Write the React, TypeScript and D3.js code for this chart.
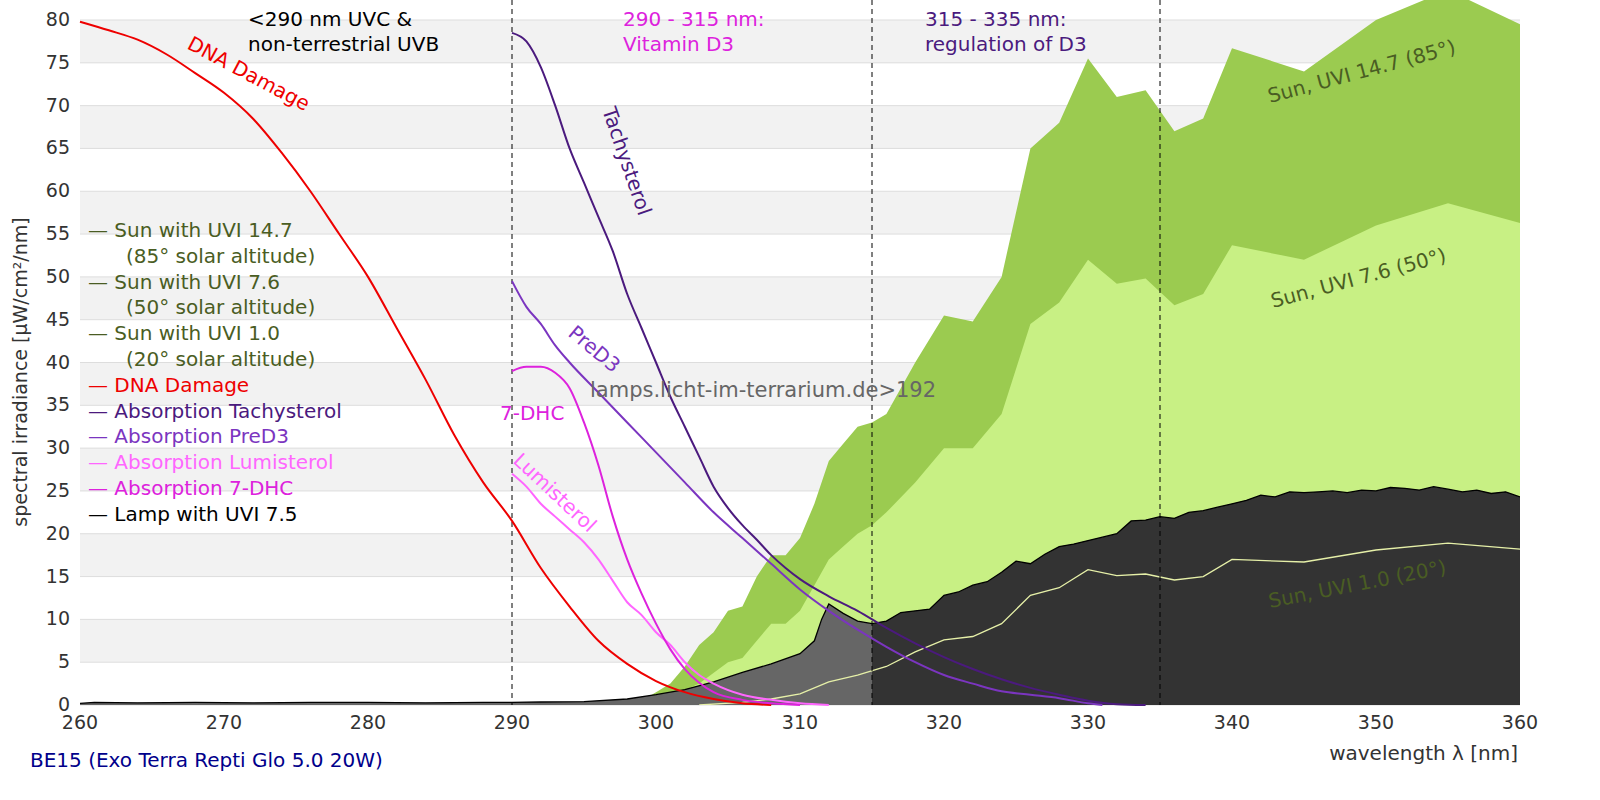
import React from 'react';
import * as d3 from 'd3';

type P = [number, number];

const sun147: P[] = [[297,0],[299,0.5],[300,1.5],[301,2.5],[302,4.5],[303,7],[304,8.5],[305,11],[306,11.5],[307,15],[308,17.5],[309,17.5],[310,19.5],[311,23.5],[312,28.5],[313,30.5],[314,32.5],[315,33],[316,34],[318,40],[320,45.5],[322,44.8],[324,50],[326,65],[328,68],[330,75.5],[332,71],[334,71.8],[336,67],[338,68.5],[340,76.7],[345,74],[350,80],[355,83.5],[360,79.5]];
const sun76: P[] = [[299,0],[301,1],[303,2.5],[305,5],[306,5.5],[307,7.5],[308,9.5],[309,9.5],[310,11],[311,14],[312,17],[313,18.5],[314,20],[315,21],[316,22.5],[318,26],[320,30],[322,30],[324,34],[326,44.5],[328,47],[330,52],[332,49.2],[334,49.8],[336,46.7],[338,48],[340,53.7],[345,52],[350,56],[355,58.6],[360,56.3]];
const sun10: P[] = [[303,0],[306,0.3],[308,0.7],[310,1.3],[312,2.7],[314,3.5],[316,4.5],[318,6.2],[320,7.6],[322,8],[324,9.5],[326,12.8],[328,13.7],[330,15.8],[332,15.1],[334,15.3],[336,14.6],[338,15],[340,17],[345,16.7],[350,18.1],[355,18.9],[360,18.2]];
const lamp: P[] = [[260,0.2],[261,0.3],[264,0.25],[268,0.3],[272,0.25],[276,0.3],[280,0.3],[284,0.25],[288,0.3],[290,0.3],[292,0.35],[295,0.4],[298,0.7],[300,1.2],[302,1.8],[304,2.7],[306,3.8],[308,4.8],[310,6],[311,7.5],[311.5,10],[312,11.8],[313,10.7],[314,9.8],[315,9.5],[316,9.8],[317,10.8],[318,11],[319,11.2],[320,12.8],[321,13.2],[322,14],[323,14.4],[324,15.5],[325,16.8],[326,16.5],[327,17.6],[328,18.5],[329,18.8],[330,19.2],[331,19.6],[332,20],[333,21.5],[334,21.6],[335,22],[336,21.8],[337,22.5],[338,22.7],[339,23.1],[340,23.5],[341,23.9],[342,24.5],[343,24.3],[344,24.9],[345,24.8],[346,24.9],[347,25],[348,24.8],[349,25.1],[350,25],[351,25.4],[352,25.3],[353,25.1],[354,25.5],[355,25.2],[356,24.9],[357,25.1],[358,24.7],[359,24.9],[360,24.3]];
const dna: P[] = [[260,79.8],[262,78.8],[264,77.7],[266,76],[268,73.8],[270,71.5],[272,68.5],[274,64.5],[276,60],[278,55],[280,50],[282,44],[284,38],[286,31.5],[288,26],[290,21.5],[292,16],[294,11.5],[296,7.5],[298,4.8],[300,2.8],[302,1.5],[304,0.7],[306,0.2],[308,0]];
const tachy: P[] = [[290,78.5],[291,77.5],[292,74.5],[293,70],[294,65],[295,61],[296,57],[297,53],[298,48],[299,44],[300,40],[301,36],[302,32.5],[303,29],[304,25.5],[305,23],[306,21],[307,19.3],[308,17.5],[309,16],[310,14.7],[312,12.7],[314,11],[316,9],[318,7.2],[320,5.6],[322,4.2],[324,3],[326,2],[328,1.2],[330,0.5],[332,0.1],[334,0]];
const pred3: P[] = [[290,49.5],[291,46.5],[292,44.5],[293,42],[294,40],[296,36.5],[298,33],[300,29.5],[302,26],[304,22.5],[306,19.5],[308,16.5],[310,13.5],[312,11],[314,8.8],[316,6.8],[318,5],[320,3.5],[322,2.5],[324,1.6],[326,1.2],[328,0.8],[330,0.2],[331,0]];
const dhc7: P[] = [[290,39],[291,39.5],[292,39.5],[293,38.8],[294,37],[295,33],[296,28],[297,22],[298,17],[299,13],[300,9.5],[301,6.5],[302,4.2],[303,2.6],[304,1.5],[306,0.6],[308,0.2],[310,0]];
const lumi: P[] = [[290,27],[291,25.5],[292,23.5],[293,22],[294,20.5],[295,19],[296,17],[297,14.5],[298,12],[299,10.5],[300,8.5],[301,7],[302,5],[303,3.5],[304,2.5],[306,1.2],[308,0.6],[310,0.2],[312,0]];

const xTicks = d3.range(260, 361, 10);
const yTicks = d3.range(0, 81, 5);
const dashedAt = [290, 315, 335];
const legendItems: [string, string, boolean][] = [
  ['— Sun with UVI 14.7', '#4a5d23', false], ['(85° solar altitude)', '#4a5d23', true],
  ['— Sun with UVI 7.6', '#4a5d23', false], ['(50° solar altitude)', '#4a5d23', true],
  ['— Sun with UVI 1.0', '#4a5d23', false], ['(20° solar altitude)', '#4a5d23', true],
  ['— DNA Damage', '#ee0000', false], ['— Absorption Tachysterol', '#4b1a7e', false],
  ['— Absorption PreD3', '#7b35c0', false], ['— Absorption Lumisterol', '#ff66ff', false],
  ['— Absorption 7-DHC', '#dd22dd', false], ['— Lamp with UVI 7.5', '#000', false],
];

const x = d3.scaleLinear().domain([260, 360]).range([80, 1520]);
const y = d3.scaleLinear().domain([0, 80]).range([705, 20]);
const area = d3.area<P>().x(d => x(d[0])).y0(y(0)).y1(d => y(d[1]));
const line = d3.line<P>().x(d => x(d[0])).y(d => y(d[1])).curve(d3.curveMonotoneX);
const sline = d3.line<P>().x(d => x(d[0])).y(d => y(d[1]));

export default function App() {
  const font = 'DejaVu Sans, sans-serif';
  const lampA = lamp.filter(d => d[0] <= 315);
  const lampB = lamp.filter(d => d[0] >= 315);
  return (
    <svg width={1600} height={800} style={{ position: 'absolute', left: 0, top: 0, fontFamily: font }}>
      <defs><clipPath id="c"><rect x={80} y={0} width={1440} height={705} /></clipPath></defs>
      {yTicks.slice(0, -1).map(t => t % 10 === 5 ? (
        <rect key={t} x={80} y={y(t + 5)} width={1440} height={y(t) - y(t + 5)} fill="#f2f2f2" />) : null)}
      {yTicks.map(t => <line key={t} x1={80} x2={1520} y1={y(t)} y2={y(t)} stroke="#ddd" />)}
      <g clipPath="url(#c)">
        <path d={area(sun147)!} fill="#9bcb50" />
        <path d={area(sun76)!} fill="#c8f084" />
        <path d={area(lampA)!} fill="#666" />
        <path d={area(lampB)!} fill="#333" />
        <path d={sline(lamp)!} fill="none" stroke="#000" strokeWidth={1.3} />
        <path d={sline(sun10)!} fill="none" stroke="#e6f0a8" strokeWidth={1.3} />
      </g>
      {dashedAt.map(v => <line key={v} x1={x(v)} x2={x(v)} y1={0} y2={705} stroke="#000" strokeDasharray="5,4" />)}
      <path d={line(dna)!} fill="none" stroke="#ee0000" strokeWidth={2} />
      <path d={line(tachy)!} fill="none" stroke="#4b1a7e" strokeWidth={2} />
      <path d={line(pred3)!} fill="none" stroke="#7b35c0" strokeWidth={2} />
      <path d={line(lumi)!} fill="none" stroke="#ff66ff" strokeWidth={2} />
      <path d={line(dhc7)!} fill="none" stroke="#dd22dd" strokeWidth={2} />
      {xTicks.map(t => <text key={t} x={x(t)} y={729} fontSize={19} textAnchor="middle" fill="#333">{t}</text>)}
      {yTicks.map(t => <text key={t} x={70} y={y(t) + 6} fontSize={19} textAnchor="end" fill="#333">{t}</text>)}
      <text transform="translate(27,372) rotate(-90)" fontSize={19} textAnchor="middle" fill="#333">spectral irradiance [µW/cm²/nm]</text>
      <text x={1518} y={760} fontSize={20} textAnchor="end" fill="#333">wavelength λ [nm]</text>
      <text x={30} y={767} fontSize={20} fill="#00008b">BE15 (Exo Terra Repti Glo 5.0 20W)</text>
      <text x={248} y={26} fontSize={20} fill="#000"><tspan x={248}>&lt;290 nm UVC &amp;</tspan><tspan x={248} dy={25}>non-terrestrial UVB</tspan></text>
      <text x={623} y={26} fontSize={20} fill="#dd22dd"><tspan x={623}>290 - 315 nm:</tspan><tspan x={623} dy={25}>Vitamin D3</tspan></text>
      <text x={925} y={26} fontSize={20} fill="#4b1a7e"><tspan x={925}>315 - 335 nm:</tspan><tspan x={925} dy={25}>regulation of D3</tspan></text>
      {legendItems.map((l, i) => <text key={i} x={l[2] ? 126 : 88} y={237 + i * 25.8} fontSize={20} fill={l[1]}>{l[0]}</text>)}
      <text x={590} y={397} fontSize={21} fill="#666">lamps.licht-im-terrarium.de&gt;192</text>
      <text transform="translate(186,48) rotate(28)" fontSize={20} fill="#ee0000">DNA Damage</text>
      <text transform="translate(602,110) rotate(71)" fontSize={20} fill="#4b1a7e">Tachysterol</text>
      <text transform="translate(567,335) rotate(40)" fontSize={20} fill="#7b35c0">PreD3</text>
      <text x={500} y={420} fontSize={20} fill="#dd22dd">7-DHC</text>
      <text transform="translate(512,462) rotate(43)" fontSize={20} fill="#ff66ff">Lumisterol</text>
      <text transform="translate(1270,103) rotate(-15)" fontSize={20} fill="#4a5d23">Sun, UVI 14.7 (85°)</text>
      <text transform="translate(1273,308) rotate(-15)" fontSize={20} fill="#4a5d23">Sun, UVI 7.6 (50°)</text>
      <text transform="translate(1270,608) rotate(-11)" fontSize={20} fill="#4a5d23">Sun, UVI 1.0 (20°)</text>
    </svg>
  );
}
